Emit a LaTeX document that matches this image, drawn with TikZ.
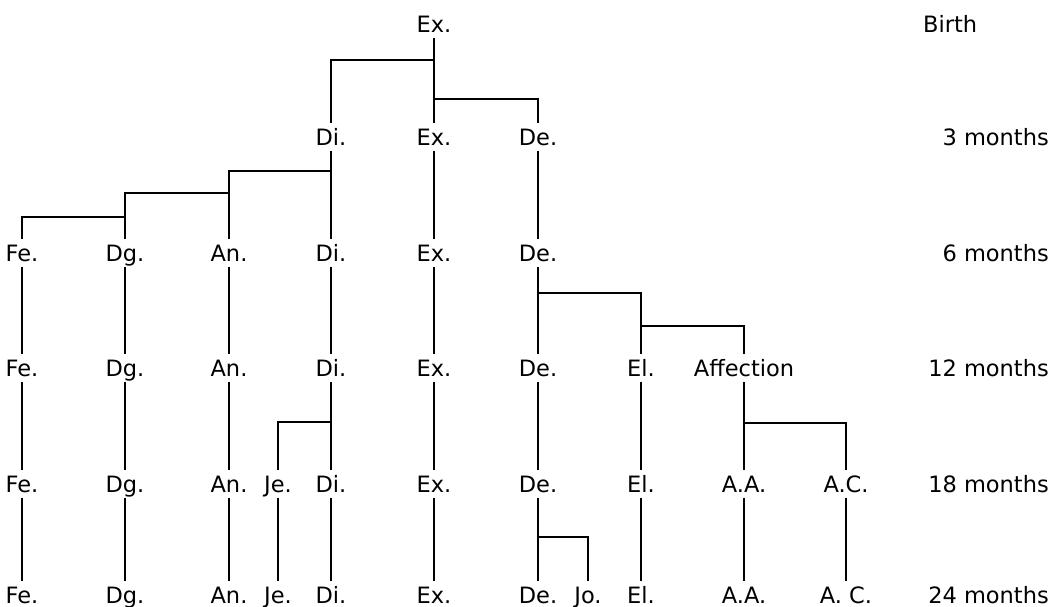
\documentclass[tikz,border=0pt]{standalone}
\usepackage{fontspec}
\setmainfont{DejaVu Sans}
\usetikzlibrary{positioning}

\tikzset{
  lbl/.style={inner sep=0pt, text height=17pt, text depth=0pt, minimum height=27pt},
  age/.style={inner sep=0pt, text height=17pt, text depth=0pt, anchor=east},
  link/.style={draw, line width=2.1pt, -}
}

\begin{document}
\begin{tikzpicture}[x=1pt, y=-1pt]
\fontsize{22.5}{26}\selectfont
\useasboundingbox (0,0) rectangle (1054,607);

\node[lbl] (ex1) at (434,24) {Ex.};

\node[lbl] (di2) at (331,137) {Di.};
\node[lbl] (ex2) at (434,137) {Ex.};
\node[lbl] (de2) at (538,137) {De.};

\node[lbl] (fe3) at (22,253) {Fe.};
\node[lbl] (dg3) at (125,253) {Dg.};
\node[lbl] (an3) at (229,253) {An.};
\node[lbl] (di3) at (331,253) {Di.};
\node[lbl] (ex3) at (434,253) {Ex.};
\node[lbl] (de3) at (538,253) {De.};

\node[lbl] (fe4) at (22,368) {Fe.};
\node[lbl] (dg4) at (125,368) {Dg.};
\node[lbl] (an4) at (229,368) {An.};
\node[lbl] (di4) at (331,368) {Di.};
\node[lbl] (ex4) at (434,368) {Ex.};
\node[lbl] (de4) at (538,368) {De.};
\node[lbl] (el4) at (641,368) {El.};
\node[lbl] (af4) at (744,368) {Affection};

\node[lbl] (fe5) at (22,484) {Fe.};
\node[lbl] (dg5) at (125,484) {Dg.};
\node[lbl] (an5) at (229,484) {An.};
\node[lbl] (je5) at (278,484) {Je.};
\node[lbl] (di5) at (331,484) {Di.};
\node[lbl] (ex5) at (434,484) {Ex.};
\node[lbl] (de5) at (538,484) {De.};
\node[lbl] (el5) at (641,484) {El.};
\node[lbl] (aa5) at (744,484) {A.A.};
\node[lbl] (ac5) at (846,484) {A.C.};

\node[lbl] (fe6) at (22,595) {Fe.};
\node[lbl] (dg6) at (125,595) {Dg.};
\node[lbl] (an6) at (229,595) {An.};
\node[lbl] (je6) at (278,595) {Je.};
\node[lbl] (di6) at (331,595) {Di.};
\node[lbl] (ex6) at (434,595) {Ex.};
\node[lbl] (de6) at (538,595) {De.};
\node[lbl] (jo6) at (588,595) {Jo.};
\node[lbl] (el6) at (641,595) {El.};
\node[lbl] (aa6) at (744,595) {A.A.};
\node[lbl] (ac6) at (846,595) {A. C.};

\node[lbl, anchor=west] (m0) at (923,24) {Birth};
\node[age] (m1) at (1049,137) {3 months};
\node[age] (m2) at (1049,253) {6 months};
\node[age] (m3) at (1049,368) {12 months};
\node[age] (m4) at (1049,484) {18 months};
\node[age] (m5) at (1049,595) {24 months};

\coordinate (j1) at (434,60);
\coordinate (j2) at (434,99);
\coordinate (j3) at (331,171);
\coordinate (j4) at (229,193);
\coordinate (j5) at (125,217);
\coordinate (j6) at (538,293);
\coordinate (j7) at (641,326);
\coordinate (j8) at (331,422);
\coordinate (j9) at (744,423);
\coordinate (j10) at (538,537);

\path[link] (ex1) -- (ex2);
\path[link] (j1) -| (di2);
\path[link] (j2) -| (de2);

\path[link] (di2) -- (di3);
\path[link] (ex2) -- (ex3);
\path[link] (de2) -- (de3);
\path[link] (j3) -| (an3);
\path[link] (j4) -| (dg3);
\path[link] (j5) -| (fe3);

\path[link] (fe3) -- (fe4);
\path[link] (dg3) -- (dg4);
\path[link] (an3) -- (an4);
\path[link] (di3) -- (di4);
\path[link] (ex3) -- (ex4);
\path[link] (de3) -- (de4);
\path[link] (j6) -| (el4);
\path[link] (j7) -| (af4);

\path[link] (fe4) -- (fe5);
\path[link] (dg4) -- (dg5);
\path[link] (an4) -- (an5);
\path[link] (di4) -- (di5);
\path[link] (j8) -| (je5);
\path[link] (ex4) -- (ex5);
\path[link] (de4) -- (de5);
\path[link] (el4) -- (el5);
\path[link] (af4) -- (aa5);
\path[link] (j9) -| (ac5);

\path[link] (fe5) -- (fe6);
\path[link] (dg5) -- (dg6);
\path[link] (an5) -- (an6);
\path[link] (je5) -- (je6);
\path[link] (di5) -- (di6);
\path[link] (ex5) -- (ex6);
\path[link] (de5) -- (de6);
\path[link] (j10) -| (jo6);
\path[link] (el5) -- (el6);
\path[link] (aa5) -- (aa6);
\path[link] (ac5) -- (ac6);
\end{tikzpicture}
\end{document}
